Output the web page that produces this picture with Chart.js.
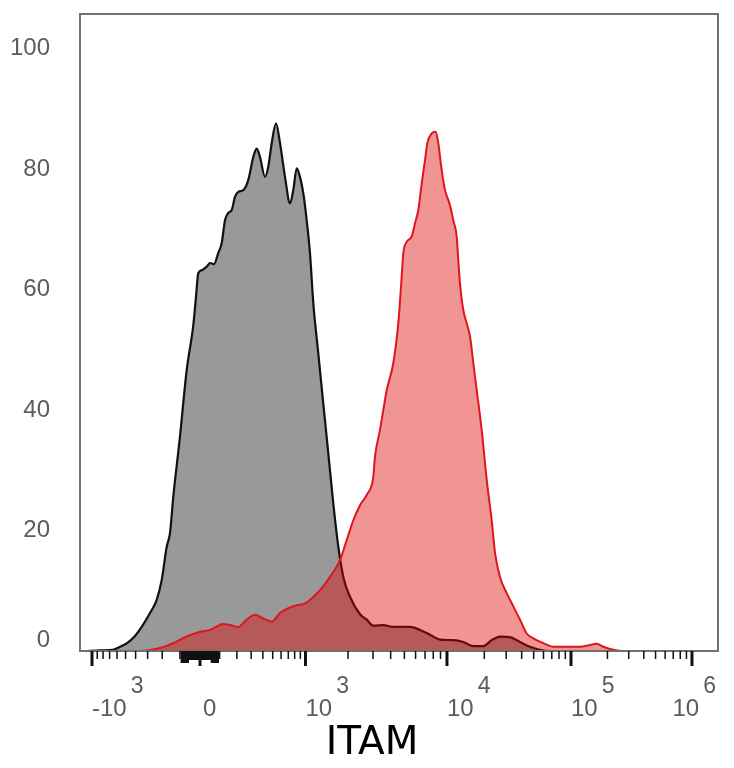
<!DOCTYPE html>
<html><head><meta charset="utf-8">
<script src="https://cdn.jsdelivr.net/npm/chart.js@4.4.1/dist/chart.umd.min.js"></script>
<style>html,body{margin:0;padding:0;background:#fff;}canvas{display:block;}</style>
</head><body>
<div style="width:734px;height:768px"><canvas id="c" width="734" height="768"></canvas></div>
<script>
// Isotype control (grey histogram): x = display channel (0-1000), y = % of max
const isotypeChannel = [7.8,31.3,51.7,62.7,73.7,86.2,96.7,109.7,120.2,128.1,135.9,141.1,146.2,156.7,167.2,177.6,181.8,185.4,190.8,198.6,203.8,210.0,216.8,222.1,227.3,232.4,237.8,243.0,248.1,256.0,263.8,271.6,277.0,282.1,290.0,295.1,300.5,307.2,313.5,321.3,329.2,334.3,339.7,344.8,350.0,355.3,360.5,365.7,373.5,381.3,389.2,397.0,404.9,412.7,423.2,438.9,449.4,459.7,475.4,491.1,517.2,532.9,548.6,564.3,585.1,600.8,616.5,632.1,645.3,658.3,674.0,689.7,705.3,721.0,736.7,752.4];
const isotypeCount = [0,0.1,0.2,0.7,1.3,2.5,4.0,6.3,8.5,11.8,17.3,19.6,25.6,35.6,46.6,54.1,58.8,62.7,63.2,63.8,64.4,64.2,66.1,67.7,71.5,72.7,73.2,75.4,76.2,76.5,78.2,82.0,83.4,82.0,78.7,80.4,84.3,87.6,84.3,78.7,74.3,76.5,80.1,78.7,76.0,71.5,66.0,57.7,49.4,41.1,32.8,24.5,17.3,12.3,9.0,6.1,5.2,4.2,4.3,4.0,4.0,3.5,2.7,1.9,1.8,1.5,0.8,0.8,1.8,2.4,2.3,1.5,0.7,0.2,0,0];
// ITAM stained (red histogram)
const itamChannel = [0,94.0,125.4,146.2,167.2,188.1,203.8,224.6,235.1,248.1,261.3,274.3,287.3,300.5,313.5,326.5,339.7,352.7,365.7,378.8,391.8,407.5,418.0,428.4,438.9,449.4,459.7,462.4,470.2,478.1,480.7,491.1,498.9,504.2,506.7,512.1,519.9,525.1,530.3,535.6,540.8,544.4,551.3,557.5,561.6,566.9,572.1,579.9,585.1,590.4,592.9,595.6,600.8,606.1,611.3,616.5,621.8,629.6,637.5,645.3,650.5,658.3,668.8,679.2,689.7,700.2,710.5,726.2,741.8,762.9,783.7,799.4,809.9,820.2,835.9,851.6,1000];
const itamCount = [0,0,0.5,1.3,2.4,3.2,3.5,4.5,4.3,4.0,5.2,6.0,5.4,4.9,6.3,7.1,7.6,7.9,9.0,10.4,12.3,15.1,18.4,21.7,24.2,25.9,28.9,32.3,36.7,41.7,43.3,47.8,54.4,62.1,66.0,67.9,68.8,71.0,73.2,77.6,81.5,84.3,85.9,86.2,84.3,79.8,76.5,74.0,71.5,68.8,64.9,61.0,56.6,54.4,52.2,47.8,43.3,36.7,28.4,21.7,16.3,12.3,9.6,7.4,5.2,2.9,2.1,1.3,0.7,0.7,0.7,1.0,1.2,0.7,0.2,0,0];

const yTickValues = [0,20,40,60,80,100];
const xTickValues = [-1000,0,1000,10000,100000,1000000];
const xTickBase = ['-10','0','10','10','10','10'];
const xTickExp = ['3','','3','4','5','6'];
const xTickChannels = [18.8,188.1,353.4,575.2,769.6,959.2];
const xTitle = 'ITAM';

// value -> display channel (biexponential-like axis)
function channelOf(v){
  const c0 = xTickChannels[1], k = 250, norm = Math.asinh(1000/k);
  if (Math.abs(v) <= 1000){
    const span = v < 0 ? c0 - xTickChannels[0] : xTickChannels[2] - c0;
    return c0 + Math.sign(v) * span * Math.asinh(Math.abs(v)/k) / norm;
  }
  const lg = Math.log10(v), d = Math.floor(lg + 1e-9), i = d - 1;
  if (i + 1 >= xTickChannels.length) return xTickChannels[xTickChannels.length-1];
  return xTickChannels[i] + (lg - d) * (xTickChannels[i+1] - xTickChannels[i]);
}
const nearZeroValues = [];
const minorValues = [];
for (let m = 1; m <= 9; m++){ nearZeroValues.push(m*10, -m*10); minorValues.push(m*100, -m*100); }
for (let d = 3; d <= 5; d++) for (let m = 2; m <= 9; m++) minorValues.push(m*Math.pow(10,d));

const decor = {
  id: 'decor',
  afterDatasetsDraw(chart){
    const {ctx, chartArea: a, scales: {x, y}} = chart;
    ctx.save();
    // frame
    ctx.strokeStyle = '#707070'; ctx.lineWidth = 2;
    ctx.strokeRect(a.left, a.top, a.right - a.left, a.bottom - a.top);
    // x ticks
    ctx.strokeStyle = '#111';
    const tick = (c, len, w) => {
      const px = x.getPixelForValue(c);
      if (px < a.left || px > a.right) return;
      ctx.lineWidth = w;
      ctx.beginPath(); ctx.moveTo(px, a.bottom); ctx.lineTo(px, a.bottom + len); ctx.stroke();
    };
    minorValues.forEach(v => tick(channelOf(v), 8, 1.5));
    nearZeroValues.forEach(v => tick(channelOf(v), Math.abs(v) >= 60 ? 12 : 9, 2.5));
    xTickChannels.forEach(c => tick(c, 15, 3));
    // x tick labels
    ctx.fillStyle = '#5c5c5c';
    ctx.textBaseline = 'middle'; ctx.textAlign = 'left';
    const baseFont = '24px "Liberation Sans", Arial, sans-serif';
    const expFont = '23px "Liberation Sans", Arial, sans-serif';
    xTickChannels.forEach((c, i) => {
      ctx.font = baseFont; const wb = ctx.measureText(xTickBase[i]).width;
      ctx.font = expFont; const we = xTickExp[i] ? ctx.measureText(xTickExp[i]).width + 4 : 0;
      let left = x.getPixelForValue(c) + (xTickExp[i] ? 0 : 3);
      if (left + wb + we > 716) left = 716 - wb - we;
      ctx.font = baseFont; ctx.fillText(xTickBase[i], left, 709);
      if (xTickExp[i]){ ctx.font = expFont; ctx.fillText(xTickExp[i], left + wb + 4, 687); }
    });
    // y tick labels
    ctx.font = baseFont;
    ctx.textAlign = 'right';
    yTickValues.forEach(v => {
      let py = y.getPixelForValue(v);
      if (v === 0) py -= 11;
      ctx.fillText(String(v), 50, py);
    });
    // axis title
    ctx.fillStyle = '#000';
    ctx.font = '39px "DejaVu Sans", sans-serif';
    ctx.textAlign = 'center';
    ctx.fillText(xTitle, 372, 744);
    ctx.restore();
  }
};

const toPts = (xs, ys) => xs.map((v, i) => ({x: v, y: ys[i]}));

new Chart(document.getElementById('c'), {
  type: 'line',
  data: {
    datasets: [
      {
        label: 'ITAM',
        data: toPts(itamChannel, itamCount),
        borderColor: 'rgb(222,22,28)',
        backgroundColor: 'rgba(222,0,0,0.42)',
        borderWidth: 2, fill: 'origin', pointRadius: 0,
        cubicInterpolationMode: 'monotone', order: 0
      },
      {
        label: 'Isotype',
        data: toPts(isotypeChannel, isotypeCount),
        borderColor: '#111',
        backgroundColor: '#999999',
        borderWidth: 2.2, fill: 'origin', pointRadius: 0,
        cubicInterpolationMode: 'monotone', order: 1
      }
    ]
  },
  options: {
    responsive: false,
    animation: false,
    layout: {padding: {left: 80, top: 14, right: 16, bottom: 117}},
    scales: {
      x: {type: 'linear', min: 0, max: 1000, display: false},
      y: {type: 'linear', min: 0, max: 105.73, display: false}
    },
    plugins: {legend: {display: false}, tooltip: {enabled: false}}
  },
  plugins: [decor]
});
</script>
</body></html>
